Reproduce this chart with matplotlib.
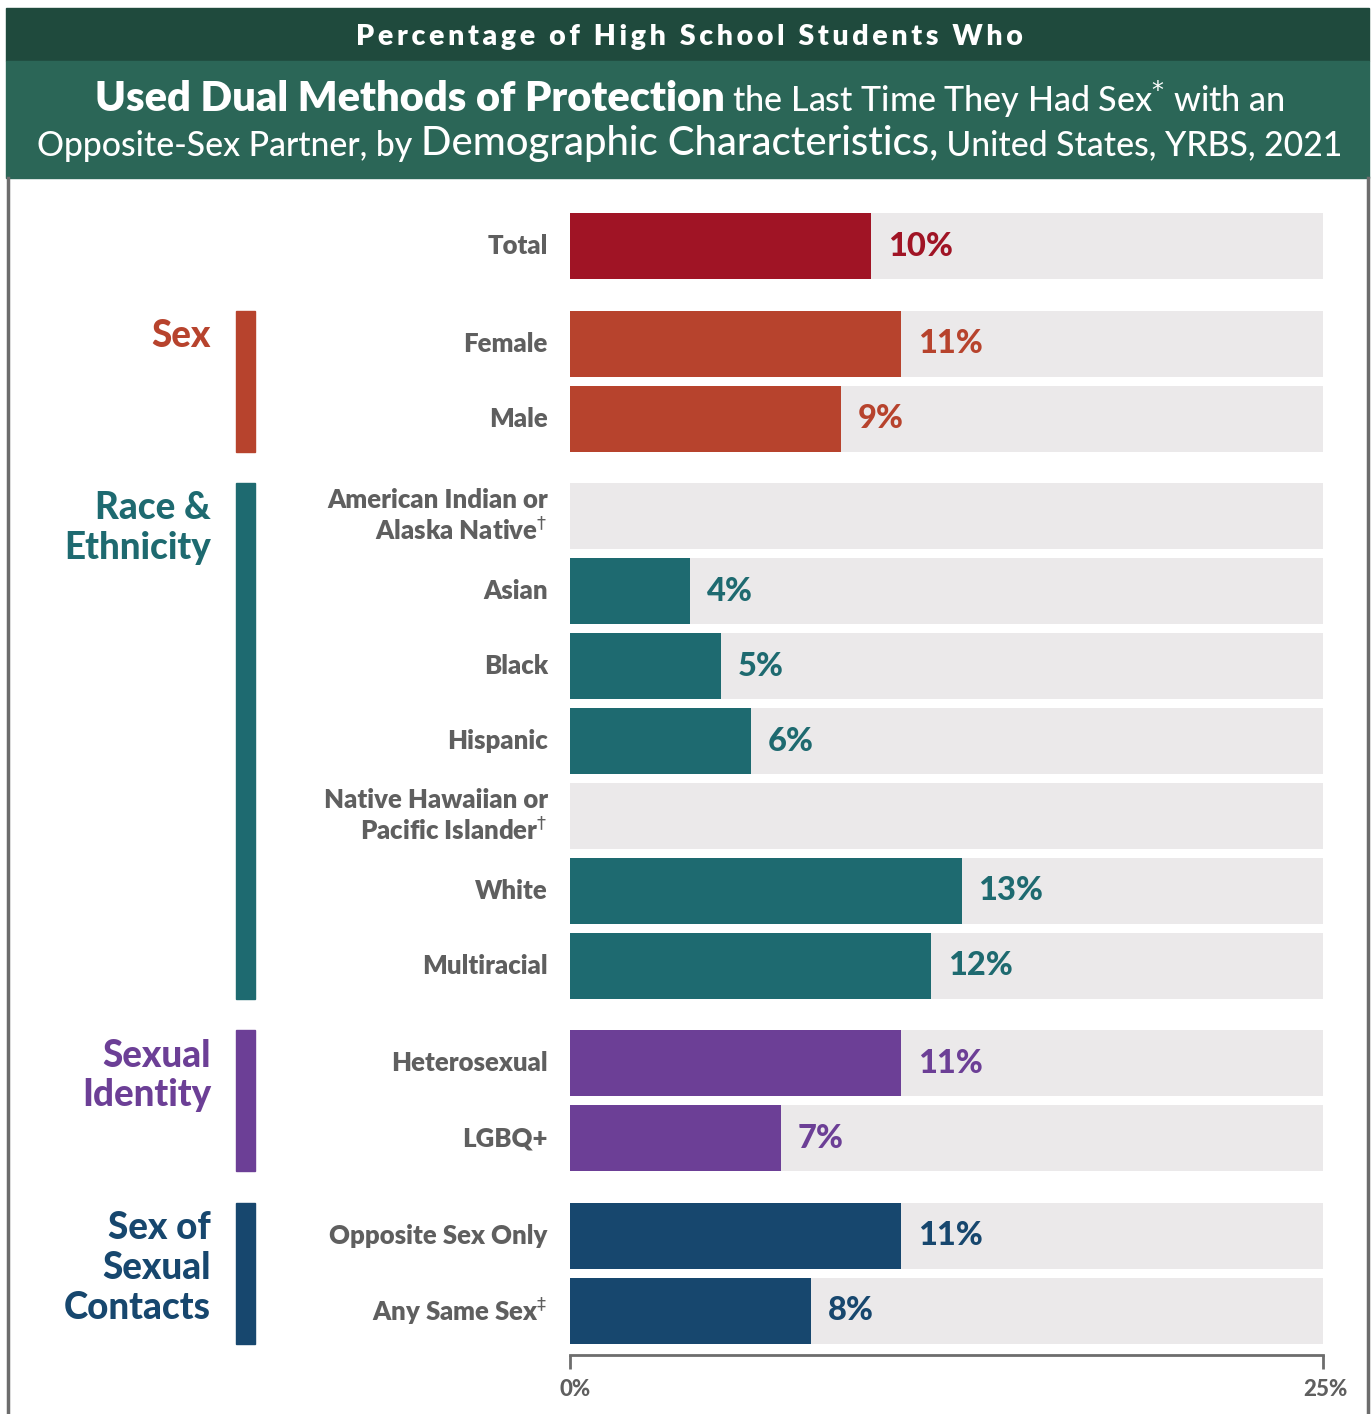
import numpy as np
import matplotlib.pyplot as plt
from matplotlib.patches import Rectangle
from matplotlib.lines import Line2D
from matplotlib.offsetbox import TextArea, HPacker, AnnotationBbox
import matplotlib.transforms as mtransforms

plt.rcParams['font.family'] = ['Lato', 'DejaVu Sans']

# ---- data ----
groups = ['Total', 'Sex', 'Race &\nEthnicity', 'Sexual\nIdentity', 'Sex of\nSexual\nContacts']
group_colors = ['#a01425', '#b7432d', '#1e6a70', '#6c3f96', '#17476e']
categories = [
    ['Total'],
    ['Female', 'Male'],
    ['American Indian or\nAlaska Native$^{\\dagger}$', 'Asian', 'Black', 'Hispanic',
     'Native Hawaiian or\nPacific Islander$^{\\dagger}$', 'White', 'Multiracial'],
    ['Heterosexual', 'LGBQ+'],
    ['Opposite Sex Only', 'Any Same Sex$^{\\ddagger}$'],
]
values = [
    [10],
    [11, 9],
    [np.nan, 4, 5, 6, np.nan, 13, 12],
    [11, 7],
    [11, 8],
]
x_ticks = [0, 25]
x_tick_labels = ['0%', '25%']
x_max = 25

W, H = 1371, 1414
fig = plt.figure(figsize=(W / 100, H / 100), dpi=100)


def fx(x):
    return x / W


def fy(y):
    return 1 - y / H


# header bands
fig.patches.append(Rectangle((fx(6), fy(61)), fx(1369 - 6), (61 - 8) / H,
                             transform=fig.transFigure, color='#1f4a3d', zorder=0))
fig.patches.append(Rectangle((fx(6), fy(178)), fx(1369 - 6), (178 - 61) / H,
                             transform=fig.transFigure, color='#2b6657', zorder=0))

# frame lines
fig.lines.append(Line2D([fx(8), fx(8)], [fy(178), 0], transform=fig.transFigure,
                        color='#6d6d6d', lw=2.5))
fig.lines.append(Line2D([fx(1368), fx(1368)], [fy(178), 0], transform=fig.transFigure,
                        color='#6d6d6d', lw=2.5))

# title line 1 (letter spaced)
line1 = 'Percentage of High School Students Who'
fig.text(0.503, fy(37), '\u2009'.join(line1), color='white', fontsize=20.5,
         fontweight='heavy', ha='center', va='center')


def title_line(parts, y):
    boxes = [TextArea(t, textprops=dict(color='white', fontsize=s, fontweight=w))
             for t, s, w in parts]
    pack = HPacker(children=boxes, align='baseline', pad=0, sep=0)
    ab = AnnotationBbox(pack, (0.503, fy(y)), xycoords='figure fraction',
                        box_alignment=(0.5, 0.5), frameon=False)
    fig.add_artist(ab)


title_line([('Used Dual Methods of Protection', 30, 'heavy'),
            (' the Last Time They Had Sex$^{*}$ with an', 24.5, 'medium')], 99)
title_line([('Opposite-Sex Partner, by ', 24.3, 'medium'),
            ('Demographic Characteristics,', 28.8, 'medium'),
            (' United States, YRBS, 2021', 24.3, 'medium')], 144)

# ---- bars ----
step = 1.0
gap = 0.3
bar_h = 0.88
positions = []
y = 0.0
for gi, cats in enumerate(categories):
    pos = []
    for c in cats:
        pos.append(y)
        y += step
    positions.append(pos)
    y += gap

ax = fig.add_axes([fx(570), fy(1355), (1323 - 570) / W, (1355 - 190) / H])
ax.set_xlim(0, x_max)
ax.set_ylim(14.787, -0.747)

trans = mtransforms.blended_transform_factory(ax.transAxes, ax.transData)

for gi, cats in enumerate(categories):
    col = group_colors[gi]
    pos = positions[gi]
    ax.barh(pos, [x_max] * len(pos), height=bar_h, color='#ebe9ea', zorder=1)
    ax.barh(pos, values[gi], height=bar_h, color=col, zorder=2)
    for p, c, v in zip(pos, cats, values[gi]):
        ax.annotate(c, (0, p), xytext=(-16, 0), textcoords='offset points',
                    ha='right', va='center', fontsize=18.5, fontweight='heavy',
                    color='#5f5f5f', linespacing=1.12)
        if not np.isnan(v):
            ax.annotate(f'{v:g}%', (v, p), xytext=(12, 0), textcoords='offset points',
                        ha='left', va='center', fontsize=23.5, fontweight='black', color=col)
    if gi > 0:
        top = pos[0] - bar_h / 2
        bot = pos[-1] + bar_h / 2
        ax.add_patch(Rectangle((-0.4436, top), 0.0252, bot - top, transform=trans,
                               color=col, clip_on=False))
        ax.annotate(groups[gi], (-0.4768, top), xycoords=trans, xytext=(0, -6),
                    textcoords='offset points', ha='right', va='top', fontsize=26.5,
                    fontweight='black', color=col, linespacing=1.2)

for s in ['top', 'right', 'left']:
    ax.spines[s].set_visible(False)
ax.spines['bottom'].set_color('#6d6d6d')
ax.spines['bottom'].set_linewidth(2)
ax.set_yticks([])
ax.set_xticks(x_ticks)
ax.tick_params(axis='x', length=10, width=2, color='#6d6d6d', labelbottom=False)

# tick labels drawn as text so the heavy weight sticks
xtrans = mtransforms.blended_transform_factory(ax.transData, ax.transAxes)
for t, lab in zip(x_ticks, x_tick_labels):
    ax.annotate(lab, (t, 0), xycoords=xtrans, xytext=(2 if t else 4, -17),
                textcoords='offset points', ha='center', va='top', fontsize=16,
                fontweight='black', color='#5f5f5f')

fig.savefig('out.png', dpi=100)
